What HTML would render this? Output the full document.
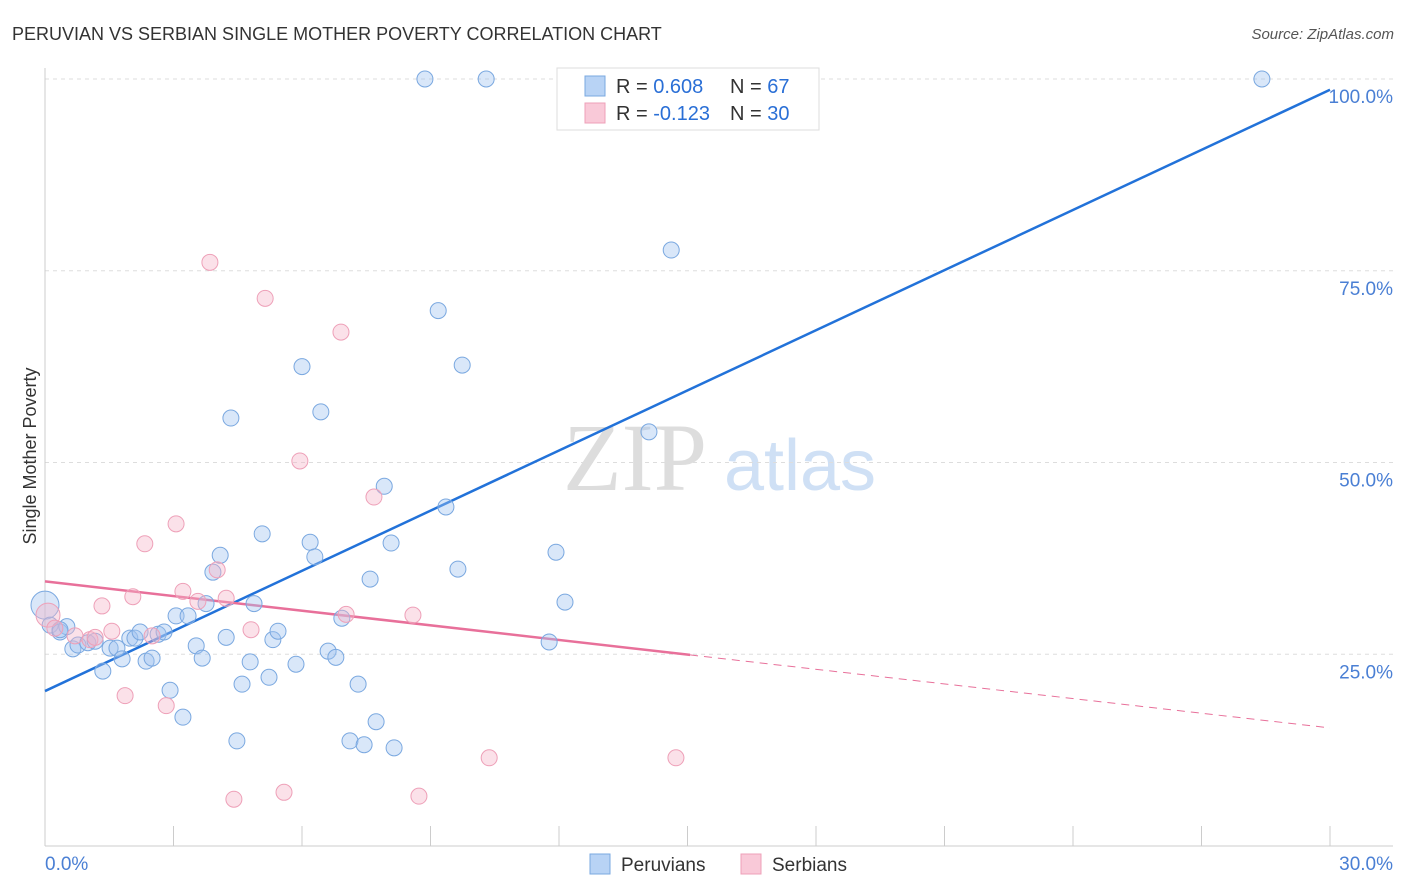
<!DOCTYPE html>
<html><head><meta charset="utf-8"><style>
body{margin:0;background:#fff;font-family:"Liberation Sans",sans-serif;}
svg{display:block}
</style></head><body>
<svg id="chart" width="1406" height="892">
<text x="12" y="40" font-size="18" fill="#333">PERUVIAN VS SERBIAN SINGLE MOTHER POVERTY CORRELATION CHART</text>
<text x="1394" y="39" font-size="15" fill="#555" text-anchor="end" font-style="italic">Source: ZipAtlas.com</text>
<text x="36" y="456" font-size="18" fill="#333" text-anchor="middle" transform="rotate(-90 36 456)">Single Mother Poverty</text>
<g><text x="635" y="490" font-size="96" fill="#ddd" font-family="Liberation Serif,serif" text-anchor="middle">ZIP</text><text x="800" y="490" font-size="72" fill="#cfe0f5" text-anchor="middle">atlas</text></g>
<g id="grid"></g><g id="axes"></g><g id="lines"></g><g id="pts"></g>
<g>
<rect x="557" y="68" width="262" height="62" fill="#fff" stroke="#ddd"/>
<rect x="585" y="76" width="20" height="20" fill="#b8d3f5" stroke="#7aa8e0"/>
<rect x="585" y="103" width="20" height="20" fill="#f9c9d8" stroke="#eea0b8"/>
<text x="616" y="93" font-size="20" fill="#333">R = <tspan fill="#2a6fd6">0.608</tspan></text>
<text x="730" y="93" font-size="20" fill="#333">N = <tspan fill="#2a6fd6">67</tspan></text>
<text x="616" y="120" font-size="20" fill="#333">R = <tspan fill="#2a6fd6">-0.123</tspan></text>
<text x="730" y="120" font-size="20" fill="#333">N = <tspan fill="#2a6fd6">30</tspan></text>
</g>
<g>
<rect x="590" y="854" width="20" height="20" fill="#b8d3f5" stroke="#7aa8e0"/><text x="621" y="871" font-size="19" fill="#333">Peruvians</text>
<rect x="741" y="854" width="20" height="20" fill="#f9c9d8" stroke="#eea0b8"/><text x="772" y="871" font-size="19" fill="#333">Serbians</text>
</g>
</svg>
<script>
const yTicks=[25,50,75,100];
const yTickLabels=["25.0%","50.0%","75.0%","100.0%"];
const xTicks=[0,3,6,9,12,15,18,21,24,27,30];
const peruX=[0,0.12,0.35,0.51,0.65,0.77,1.0,1.17,1.35,1.52,1.68,1.8,1.98,2.1,2.22,2.36,2.5,2.64,2.78,2.92,3.06,3.22,3.34,3.53,3.67,3.76,3.92,4.09,4.23,4.34,4.48,4.6,4.79,4.88,5.07,5.23,5.32,5.44,5.86,6.0,6.19,6.3,6.44,6.61,6.79,6.93,7.12,7.31,7.45,7.59,7.73,7.92,8.08,8.15,8.87,9.18,9.36,9.64,9.74,10.3,11.77,11.93,12.14,14.1,14.62,28.41,0.35];
const peruY=[31.4,28.8,27.9,28.6,25.7,26.2,26.5,26.7,22.8,25.8,25.8,24.4,27.1,27.1,27.9,24.1,24.5,27.6,27.9,20.3,30.0,16.8,30.0,26.1,24.5,31.6,35.7,37.9,27.2,55.8,13.7,21.1,24.0,31.6,40.7,22.0,26.9,28.0,23.7,62.5,39.6,37.7,56.6,25.4,24.6,29.7,13.7,21.1,13.2,34.8,16.2,46.9,39.5,12.8,100,69.8,44.2,36.1,62.7,100,26.6,38.3,31.8,54.0,77.7,100,28.2];
const serbX=[0.07,0.23,0.7,1.05,1.33,1.56,1.87,2.05,2.33,2.5,2.83,3.06,3.22,3.57,3.85,4.02,4.23,4.41,4.81,5.14,5.58,5.95,6.91,7.03,7.68,8.59,8.73,10.37,14.73,1.17];
const serbY=[30.1,28.4,27.4,26.9,31.3,28.0,19.6,32.5,39.4,27.4,18.3,42.0,33.2,31.9,76.1,36.0,32.3,6.1,28.2,71.4,7.0,50.2,67.0,30.2,45.5,30.1,6.5,11.5,11.5,27.2];
const peruTrend=[20.2,98.6];
const serbTrend=[34.5,15.4];
const serbSolidEnd=15.06;

const X=v=>45+v*(1285/30), Y=v=>846-v*7.67;
const NS="http://www.w3.org/2000/svg";
function mk(tag,parent,attrs){const e=document.createElementNS(NS,tag);for(const k in attrs)e.setAttribute(k,attrs[k]);document.getElementById(parent).appendChild(e);return e;}
yTicks.forEach((t,i)=>{
 const g=mk('line','grid',{x1:45,x2:1393,y1:Y(t),y2:Y(t),stroke:'#ddd','stroke-dasharray':'4,4'});
 
 
 const l=mk('text','axes',{x:1393,y:Y(t)+24,'font-size':19,fill:'#4a7fd4','text-anchor':'end'});l.textContent=yTickLabels[i];
 
 
});
const ya=mk('line','axes',{x1:45,x2:45,y1:68,y2:846,stroke:'#ccc'});


const xa=mk('line','axes',{x1:45,x2:1393,y1:846,y2:846,stroke:'#ccc'});


xTicks.forEach(t=>{const tk=mk('line','axes',{x1:X(t),x2:X(t),y1:826,y2:846,stroke:'#ccc'});
 
 });
[[0,"0.0%",'start',45],[30,"30.0%",'end',1393]].forEach(a=>{const l=mk('text','axes',{x:a[3],y:870,'font-size':19,fill:'#4a7fd4','text-anchor':a[2]});l.textContent=a[1];
 
 });
peruX.forEach((x,i)=>{const c=mk('circle','pts',{cx:X(x),cy:Y(peruY[i]),r:i==0?14:8,fill:'rgba(160,196,240,0.4)',stroke:'#7aa8e0','stroke-width':1});
 
 });
serbX.forEach((x,i)=>{const c=mk('circle','pts',{cx:X(x),cy:Y(serbY[i]),r:i==0?12:8,fill:'rgba(245,180,200,0.4)',stroke:'#eea0b8','stroke-width':1});
 
 });
const pl=mk('line','lines',{x1:X(0),y1:Y(peruTrend[0]),x2:X(30),y2:Y(peruTrend[1]),stroke:'#2272d9','stroke-width':2.5});


const sv=t=>serbTrend[0]+(serbTrend[1]-serbTrend[0])*t/30;
const sl=mk('line','lines',{x1:X(0),y1:Y(sv(0)),x2:X(serbSolidEnd),y2:Y(sv(serbSolidEnd)),stroke:'#e8709a','stroke-width':2.5});


const sd=mk('line','lines',{x1:X(serbSolidEnd),y1:Y(sv(serbSolidEnd)),x2:X(30),y2:Y(sv(30)),stroke:'#e8709a','stroke-width':1,'stroke-dasharray':'8,6'});


</script>
</body></html>
